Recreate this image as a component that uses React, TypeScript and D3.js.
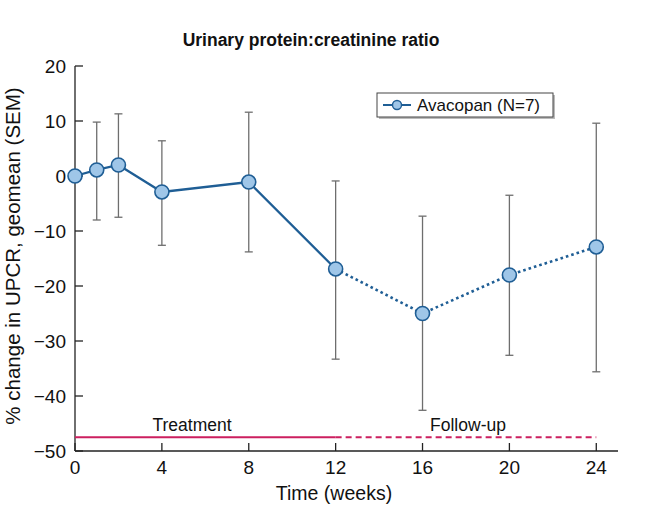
import React from "react";
import * as d3 from "d3";

const weeks = [0, 1, 2, 4, 8, 12, 16, 20, 24];
const meanChange = [0, 1.1, 2, -2.9, -1.1, -16.9, -25, -18, -12.9];
const upperSEM = [0, 9.8, 11.3, 6.4, 11.6, -0.9, -7.3, -3.5, 9.6];
const lowerSEM = [0, -8, -7.5, -12.6, -13.8, -33.3, -42.6, -32.6, -35.6];
const xTicks = [0, 4, 8, 12, 16, 20, 24];
const yTicks = [20, 10, 0, -10, -20, -30, -40, -50];
const phaseLevel = -47.5;
const treatmentEnd = 12;
const followUpEnd = 24;

const FONT = "'Liberation Sans', Arial, Helvetica, sans-serif";

export default function App() {
  const W = 646;
  const H = 505;
  const x = d3.scaleLinear().domain([0, 25]).range([75, 618]);
  const y = d3.scaleLinear().domain([-50, 20]).range([451, 66]);

  const pts = weeks.map((w, i) => ({ w, v: meanChange[i], hi: upperSEM[i], lo: lowerSEM[i] }));
  const line = d3
    .line<{ w: number; v: number }>()
    .x((d) => x(d.w))
    .y((d) => y(d.v));
  const solidPts = pts.filter((d) => d.w <= treatmentEnd);
  const dottedPts = pts.filter((d) => d.w >= treatmentEnd);

  const lineColor = "#1f5e95";
  const fillColor = "#9fc6e8";
  const barColor = "#6e6e6e";
  const phaseColor = "#cc1f5f";

  return (
    <svg width={W} height={H} style={{ position: "absolute", left: 0, top: 0 }} fontFamily={FONT}>
      <rect width={W} height={H} fill="#fff" />
      <text x={311} y={46} textAnchor="middle" fontSize={17.5} fontWeight="bold" fill="#111">
        Urinary protein:creatinine ratio
      </text>

      {/* axes */}
      <line x1={x(0)} x2={x(0)} y1={y(20)} y2={y(-50)} stroke="#222" strokeWidth={1.3} />
      <line x1={x(0)} x2={x(25)} y1={y(-50)} y2={y(-50)} stroke="#222" strokeWidth={1.3} />
      {yTicks.map((t) => (
        <g key={"y" + t}>
          <line x1={x(0)} x2={x(0) + 8} y1={y(t)} y2={y(t)} stroke="#222" strokeWidth={1.3} />
          <text x={x(0) - 9} y={y(t)} dy="0.36em" textAnchor="end" fontSize={19} fill="#111">
            {t < 0 ? "\u2212" + Math.abs(t) : t}
          </text>
        </g>
      ))}
      {xTicks.map((t) => (
        <g key={"x" + t}>
          <line x1={x(t)} x2={x(t)} y1={y(-50)} y2={y(-50) - 8} stroke="#222" strokeWidth={1.3} />
          <text x={x(t)} y={y(-50) + 23} textAnchor="middle" fontSize={19} fill="#111">
            {t}
          </text>
        </g>
      ))}
      <text x={334} y={500} textAnchor="middle" fontSize={19.5} fill="#111">
        Time (weeks)
      </text>
      <text
        transform={`translate(20,${256}) rotate(-90)`}
        textAnchor="middle"
        fontSize={20.5}
        fill="#111"
      >
        % change in UPCR, geomean (SEM)
      </text>

      {/* phases */}
      <line x1={x(0)} x2={x(treatmentEnd)} y1={y(phaseLevel)} y2={y(phaseLevel)} stroke={phaseColor} strokeWidth={2} />
      <line
        x1={x(treatmentEnd)}
        x2={x(followUpEnd)}
        y1={y(phaseLevel)}
        y2={y(phaseLevel)}
        stroke={phaseColor}
        strokeWidth={2}
        strokeDasharray="6,4"
      />
      <text x={192} y={431} textAnchor="middle" fontSize={17.5} fill="#111">
        Treatment
      </text>
      <text x={468} y={431} textAnchor="middle" fontSize={17.5} fill="#111">
        Follow-up
      </text>

      {/* error bars */}
      {pts
        .filter((d) => d.hi !== d.lo)
        .map((d) => (
          <g key={"e" + d.w} stroke={barColor} strokeWidth={1.3}>
            <line x1={x(d.w)} x2={x(d.w)} y1={y(d.hi)} y2={y(d.lo)} />
            <line x1={x(d.w) - 4} x2={x(d.w) + 4} y1={y(d.hi)} y2={y(d.hi)} />
            <line x1={x(d.w) - 4} x2={x(d.w) + 4} y1={y(d.lo)} y2={y(d.lo)} />
          </g>
        ))}

      {/* lines */}
      <path d={line(solidPts) || ""} fill="none" stroke={lineColor} strokeWidth={2.3} />
      <path d={line(dottedPts) || ""} fill="none" stroke={lineColor} strokeWidth={2.6} strokeDasharray="2.6,3" />
      {pts.map((d) => (
        <circle key={"c" + d.w} cx={x(d.w)} cy={y(d.v)} r={7} fill={fillColor} stroke={lineColor} strokeWidth={1.6} />
      ))}

      {/* legend */}
      <rect x={379} y={95} width={176} height={24} fill="#bbb" />
      <rect x={377} y={93} width={176} height={24} fill="#fff" stroke="#444" strokeWidth={1} />
      <line x1={383} x2={411} y1={105} y2={105} stroke={lineColor} strokeWidth={2} />
      <circle cx={397} cy={105} r={4.5} fill={fillColor} stroke={lineColor} strokeWidth={1.4} />
      <text x={417} y={111} fontSize={17} fill="#111">
        Avacopan (N=7)
      </text>
    </svg>
  );
}
